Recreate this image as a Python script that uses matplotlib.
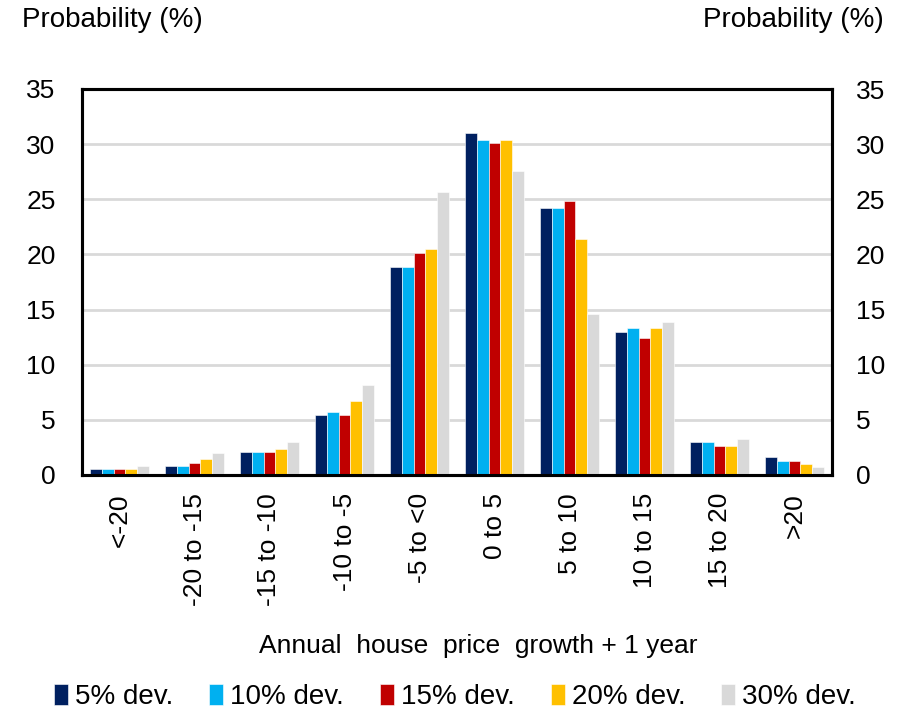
import matplotlib
matplotlib.use("Agg")
import matplotlib.pyplot as plt
import numpy as np

plt.rcParams['font.family'] = ['Liberation Sans', 'DejaVu Sans']

categories = ['<-20', '-20 to -15', '-15 to -10', '-10 to -5', '-5 to <0',
              '0 to 5', '5 to 10', '10 to 15', '15 to 20', '>20']
series_names = ['5% dev.', '10% dev.', '15% dev.', '20% dev.', '30% dev.']
dev5 = [0.5, 0.8, 2.05, 5.45, 18.9, 31.0, 24.2, 13.0, 2.95, 1.6]
dev10 = [0.5, 0.8, 2.05, 5.75, 18.9, 30.4, 24.2, 13.3, 2.95, 1.3]
dev15 = [0.5, 1.1, 2.05, 5.45, 20.1, 30.1, 24.85, 12.4, 2.65, 1.3]
dev20 = [0.5, 1.45, 2.35, 6.7, 20.45, 30.4, 21.4, 13.3, 2.65, 1.0]
dev30 = [0.8, 2.0, 2.95, 8.2, 25.7, 27.6, 14.6, 13.9, 3.3, 0.7]
colors = ['#002060', '#00B0F0', '#C00000', '#FFC000', '#D9D9D9']
yticks = [0, 5, 10, 15, 20, 25, 30, 35]

series = [dev5, dev10, dev15, dev20, dev30]
FS = 19
FT = 20

fig = plt.figure(figsize=(9.02, 7.12), dpi=100)
ax = fig.add_axes([82/902, 1-475/712, 750/902, 386/712])

x = np.arange(len(categories))
bw = 0.155
for i, (vals, c, name) in enumerate(zip(series, colors, series_names)):
    ax.bar(x + (i - 2) * bw, vals, width=bw, color=c, label=name,
           edgecolor='white', linewidth=0.4, zorder=3)

ax.set_xlim(-0.5, len(categories) - 0.5)
ax.set_ylim(0, 35)
ax.set_yticks(yticks)
ax.set_yticklabels([str(t) for t in yticks], fontsize=FS)
ax.set_xticks(x)
ax.set_xticklabels(categories, rotation=90, fontsize=FS)
ax.tick_params(axis='y', length=0, pad=19)
ax.tick_params(axis='x', length=0, pad=13)
ax.yaxis.grid(True, color='#D9D9D9', linewidth=2, zorder=0)
ax.set_axisbelow(True)
for s in ax.spines.values():
    s.set_linewidth(2.2)
    s.set_color('black')

ax2 = ax.twinx()
ax2.set_ylim(0, 35)
ax2.set_yticks(yticks)
ax2.set_yticklabels([str(t) for t in yticks], fontsize=FS)
ax2.tick_params(axis='y', length=0, pad=17)
for s in ax2.spines.values():
    s.set_linewidth(2.2)

fig.text(22/902, 1-20/712, 'Probability (%)', fontsize=FT, ha='left', va='center')
fig.text(884/902, 1-20/712, 'Probability (%)', fontsize=FT, ha='right', va='center')
fig.text(478/902, 1-646/712, 'Annual  house  price  growth + 1 year', fontsize=FS,
         ha='center', va='center')

handles, labels = ax.get_legend_handles_labels()
fig.legend(handles, labels, loc='center', bbox_to_anchor=(455/902, 1-697/712),
           ncol=5, frameon=False, fontsize=FT, handlelength=0.5, handleheight=0.8,
           handletextpad=0.25, columnspacing=1.3)

fig.savefig('out.png', dpi=100)
